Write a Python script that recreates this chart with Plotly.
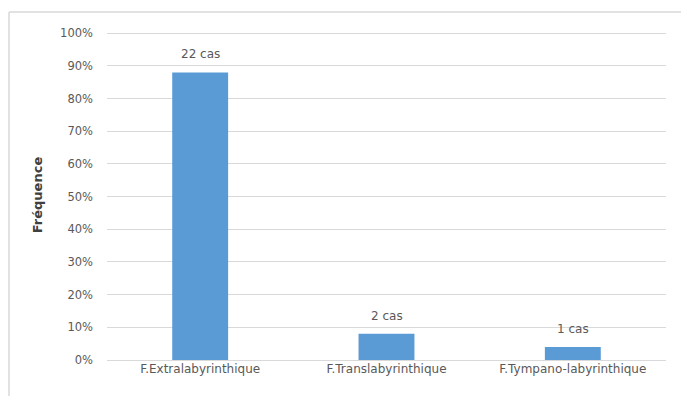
import plotly.graph_objects as go

categories = ["F.Extralabyrinthique", "F.Translabyrinthique", "F.Tympano-labyrinthique"]
frequences = [0.88, 0.08, 0.04]
cas_labels = ["22 cas", "2 cas", "1 cas"]
y_ticks = [0, 0.1, 0.2, 0.3, 0.4, 0.5, 0.6, 0.7, 0.8, 0.9, 1.0]
y_tick_text = ["0%", "10%", "20%", "30%", "40%", "50%", "60%", "70%", "80%", "90%", "100%"]

W, H = 681, 396
L, R, T, B = 107, 15, 30, 36
pw = W - L - R
ph = H - T - B

font = "DejaVu Sans"
gray = "#595959"

fig = go.Figure()
fig.add_trace(go.Bar(
    x=categories, y=frequences,
    marker=dict(color="#5B9BD5", line=dict(width=0)),
    width=0.3,
    hoverinfo="skip",
))

for c, v, t in zip(categories, frequences, cas_labels):
    fig.add_annotation(x=c, y=v, text=t, showarrow=False, yanchor="bottom",
                       yshift=9, font=dict(family=font, size=12, color=gray))

# outer chart frame (left and top edges visible)
bx = (9 - L) / pw
by = (H - B - 12) / ph
fig.add_shape(type="line", xref="paper", yref="paper", x0=bx, x1=bx, y0=by, y1=-0.2,
              line=dict(color="#d9d9d9", width=1.5))
fig.add_shape(type="line", xref="paper", yref="paper", x0=bx, x1=1.2, y0=by, y1=by,
              line=dict(color="#d9d9d9", width=1.5))

fig.update_layout(
    width=W, height=H,
    margin=dict(l=L, r=R, t=T, b=B),
    paper_bgcolor="white", plot_bgcolor="white",
    showlegend=False,
    font=dict(family=font, size=12, color=gray),
    xaxis=dict(showgrid=False, showline=False, ticks="", tickfont=dict(size=12, color=gray),
               range=[-0.5, 2.5]),
    yaxis=dict(range=[0, 1.01], tickvals=y_ticks, ticktext=y_tick_text,
               showgrid=True, gridcolor="#d9d9d9", gridwidth=1.3,
               zeroline=True, zerolinecolor="#d9d9d9", zerolinewidth=1.3,
               showline=False, ticks="", ticklabelstandoff=13,
               tickfont=dict(size=11.5, color=gray),
               title=dict(text="<b>Fréquence</b>", standoff=14,
                          font=dict(size=13, color="#404040"))),
)

fig.write_html("out.html")
